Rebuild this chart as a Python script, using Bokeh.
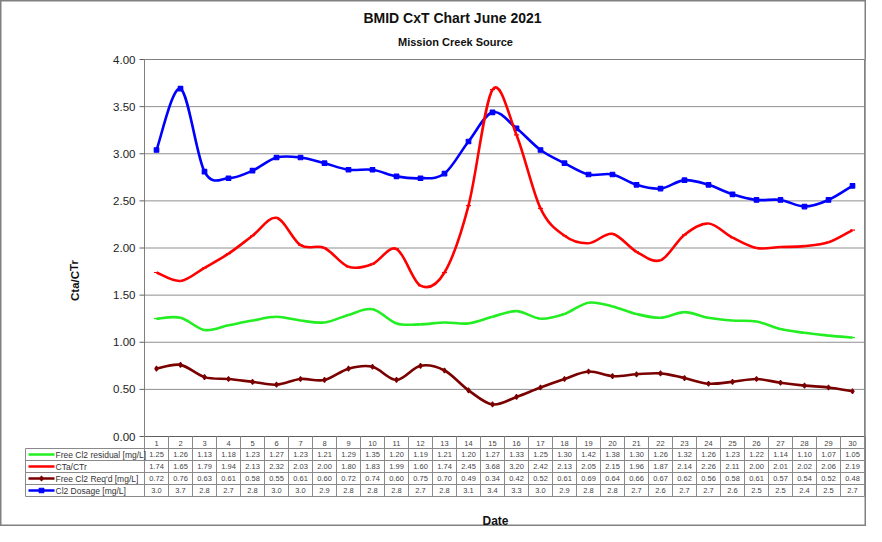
from bokeh.plotting import figure
from bokeh.models import Range1d, ColumnDataSource
from bokeh.core.properties import value
from bokeh.embed import file_html
from bokeh.resources import INLINE

# ---------------- data ----------------
days = list(range(1, 31))
free_cl2_residual = [1.25, 1.26, 1.13, 1.18, 1.23, 1.27, 1.23, 1.21, 1.29, 1.35,
                     1.20, 1.19, 1.21, 1.20, 1.27, 1.33, 1.25, 1.30, 1.42, 1.38,
                     1.30, 1.26, 1.32, 1.26, 1.23, 1.22, 1.14, 1.10, 1.07, 1.05]
cta_ctr = [1.74, 1.65, 1.79, 1.94, 2.13, 2.32, 2.03, 2.00, 1.80, 1.83,
           1.99, 1.60, 1.74, 2.45, 3.68, 3.20, 2.42, 2.13, 2.05, 2.15,
           1.96, 1.87, 2.14, 2.26, 2.11, 2.00, 2.01, 2.02, 2.06, 2.19]
free_cl2_reqd = [0.72, 0.76, 0.63, 0.61, 0.58, 0.55, 0.61, 0.60, 0.72, 0.74,
                 0.60, 0.75, 0.70, 0.49, 0.34, 0.42, 0.52, 0.61, 0.69, 0.64,
                 0.66, 0.67, 0.62, 0.56, 0.58, 0.61, 0.57, 0.54, 0.52, 0.48]
cl2_dosage = [3.04, 3.69, 2.81, 2.74, 2.82, 2.96, 2.96, 2.90, 2.83, 2.83,
              2.76, 2.74, 2.79, 3.13, 3.44, 3.27, 3.04, 2.90, 2.78, 2.78,
              2.67, 2.63, 2.72, 2.67, 2.57, 2.51, 2.51, 2.44, 2.51, 2.66]
series_names = ["Free Cl2 residual [mg/L]", "CTa/CTr", "Free Cl2 Req'd [mg/L]", "Cl2 Dosage [mg/L]"]
y_ticks = [0.0, 0.5, 1.0, 1.5, 2.0, 2.5, 3.0, 3.5, 4.0]

title_text = "BMID CxT Chart June 2021"
subtitle_text = "Mission Creek Source"
y_label = "Cta/CTr"
x_label = "Date"

# ---------------- layout helpers (reference pixel -> data) ----------------
COL = 24.0
PX_PER_UNIT = 94.25
def rx(px):
    return 0.5 + (px - 147) / COL
def ry(py):
    return (439 - py) / PX_PER_UNIT

FONT = value("Liberation Sans")
W, H = 866, 526
OX, OY = 3, 3   # reference offset of the figure's top-left corner

p = figure(width=W, height=H, output_backend="svg", toolbar_location=None,
           x_range=Range1d(rx(OX), rx(OX + W)), y_range=Range1d(ry(OY + H), ry(OY)),
           x_axis_type=None, y_axis_type=None, min_border=0,
           min_border_left=0, min_border_right=0, min_border_top=0, min_border_bottom=0)
p.grid.visible = False
p.outline_line_color = "#808080"
p.outline_line_width = 2
p.background_fill_color = "white"
p.border_fill_color = "white"

GRID = "#8f8f8f"
x_left, x_right = 0.5, 30.5

# horizontal gridlines
p.segment(x0=[x_left] * len(y_ticks), x1=[x_right] * len(y_ticks), y0=y_ticks, y1=y_ticks,
          line_color=GRID, line_width=1)
# plot border
p.segment(x0=[x_left, x_right], x1=[x_left, x_right], y0=[0, 0], y1=[4, 4], line_color="#808080", line_width=1)
p.segment(x0=[x_right + 0.06], x1=[x_right + 0.06], y0=[0], y1=[4.0], line_color="#a0a0a0", line_width=2)
p.segment(x0=[x_left], x1=[x_right], y0=[4.0], y1=[4.0], line_color="#808080", line_width=1)
p.segment(x0=[x_left], x1=[x_right], y0=[0], y1=[0], line_color="#606060", line_width=1)
# y ticks and labels
p.segment(x0=[rx(142)] * len(y_ticks), x1=[x_left] * len(y_ticks), y0=y_ticks, y1=y_ticks,
          line_color="#606060", line_width=1)
p.text(x=[rx(138)] * len(y_ticks), y=y_ticks, text=[f"{t:.2f}" for t in y_ticks],
       text_align="right", text_baseline="middle", text_font=FONT, text_font_size="11.5px",
       text_color="#222222")

# titles & axis labels
p.text(x=[rx(455)], y=[ry(20)], text=[title_text], text_align="center", text_baseline="middle",
       text_font=FONT, text_font_size="14px", text_font_style="bold", text_color="#111111")
p.text(x=[rx(458)], y=[ry(44)], text=[subtitle_text], text_align="center", text_baseline="middle",
       text_font=FONT, text_font_size="11px", text_font_style="bold", text_color="#111111")
p.text(x=[rx(77)], y=[ry(283)], text=[y_label], angle=1.5708, text_align="center",
       text_baseline="middle", text_font=FONT, text_font_size="11.5px", text_font_style="bold",
       text_color="#111111")
p.text(x=[rx(498)], y=[ry(523)], text=[x_label], text_align="center", text_baseline="middle",
       text_font=FONT, text_font_size="12px", text_font_style="bold", text_color="#111111")

# ---------------- smoothed series (Excel-like Bezier) ----------------
def bezier_source(xs, ys):
    n = len(xs)
    P = [(xs[0], ys[0])] + list(zip(xs, ys)) + [(xs[-1], ys[-1])]
    d = dict(x0=[], y0=[], x1=[], y1=[], cx0=[], cy0=[], cx1=[], cy1=[])
    for i in range(n - 1):
        pm, p0, p1, p2 = P[i], P[i + 1], P[i + 2], P[i + 3]
        d["x0"].append(p0[0]); d["y0"].append(p0[1])
        d["x1"].append(p1[0]); d["y1"].append(p1[1])
        d["cx0"].append(p0[0] + (p1[0] - pm[0]) / 6); d["cy0"].append(p0[1] + (p1[1] - pm[1]) / 6)
        d["cx1"].append(p1[0] - (p2[0] - p0[0]) / 6); d["cy1"].append(p1[1] - (p2[1] - p0[1]) / 6)
    return ColumnDataSource(d)

series = [
    (free_cl2_residual, "#22ee22", "dash", 5),
    (cta_ctr, "#ff0000", "dash", 5),
    (free_cl2_reqd, "#7a0000", "diamond", 5),
    (cl2_dosage, "#0000ff", "square", 4.5),
]
for vals, color, marker, msize in [series[0], series[2], series[3], series[1]]:
    p.bezier(x0="x0", y0="y0", x1="x1", y1="y1", cx0="cx0", cy0="cy0", cx1="cx1", cy1="cy1",
             source=bezier_source(days, vals), line_color=color, line_width=2.6)
    p.scatter(x=days, y=vals, marker=marker, size=msize, fill_color=color, line_color=color,
              line_width=1.2)

# ---------------- data table ----------------
TBL = "#8a8a8a"
row_lines = [451, 463, 475, 487, 499]
# vertical lines between days
p.segment(x0=[k + 0.5 for k in range(31)], x1=[k + 0.5 for k in range(31)],
          y0=[0] * 31, y1=[ry(499)] * 31, line_color=TBL, line_width=1)
# horizontal row lines
p.segment(x0=[rx(28)] * len(row_lines), x1=[x_right] * len(row_lines),
          y0=[ry(r) for r in row_lines], y1=[ry(r) for r in row_lines], line_color=TBL, line_width=1)
p.segment(x0=[rx(28)], x1=[rx(28)], y0=[ry(451)], y1=[ry(499)], line_color=TBL, line_width=1)

# header (day numbers)
p.text(x=days, y=[ry(445.5)] * 30, text=[str(d) for d in days], text_align="center",
       text_baseline="middle", text_font=FONT, text_font_size="7.5px", text_color="#444444")

formats = ["{:.2f}", "{:.2f}", "{:.2f}", "{:.1f}"]
for i, (vals, color, marker, msize) in enumerate(series):
    yc = ry(457 + 12 * i)
    p.text(x=days, y=[yc] * 30, text=[formats[i].format(v) for v in vals], text_align="center",
           text_baseline="middle", text_font=FONT, text_font_size="7.5px", text_color="#444444")
    p.segment(x0=[rx(31)], x1=[rx(57)], y0=[yc], y1=[yc], line_color=color, line_width=2.6)
    p.scatter(x=[rx(44)], y=[yc], marker=marker, size=msize, fill_color=color, line_color=color,
              line_width=1.2)
    p.text(x=[rx(58)], y=[yc], text=[series_names[i]], text_align="left", text_baseline="middle",
           text_font=FONT, text_font_size="8.5px", text_color="#333333")

open("out.html", "w").write(file_html(p, INLINE))
